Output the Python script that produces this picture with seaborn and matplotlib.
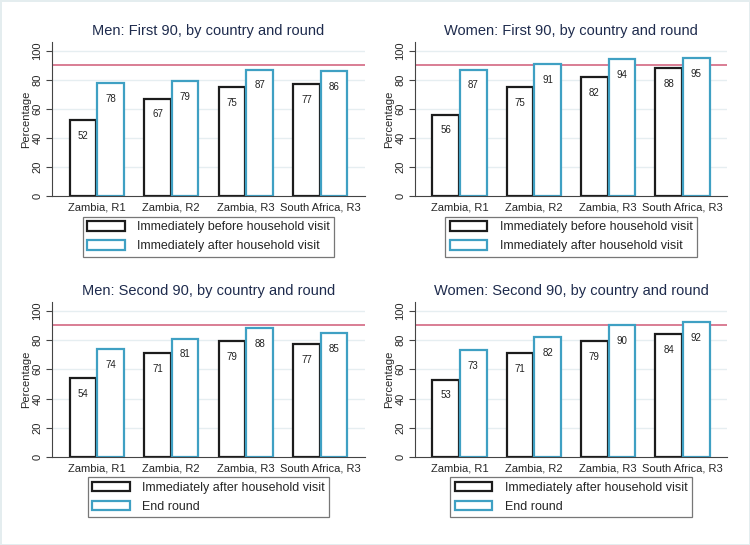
import pandas as pd
import matplotlib
matplotlib.use('Agg')
import matplotlib.pyplot as plt
import seaborn as sns

# Data
categories = ['Zambia, R1', 'Zambia, R2', 'Zambia, R3', 'South Africa, R3']

men_first_before = [52, 67, 75, 77]
men_first_after = [78, 79, 87, 86]
women_first_before = [56, 75, 82, 88]
women_first_after = [87, 91, 94, 95]
men_second_after = [54, 71, 79, 77]
men_second_end = [74, 81, 88, 85]
women_second_after = [53, 71, 79, 84]
women_second_end = [73, 82, 90, 92]

first_labels = ['Immediately before household visit', 'Immediately after household visit']
second_labels = ['Immediately after household visit', 'End round']

target = 90

sns.set_theme(style='white')
plt.rcParams['font.family'] = ['Liberation Sans', 'DejaVu Sans']

BLACK = '#1c1c1c'
BLUE = '#3fa0c3'
RED = '#cf5a76'
GRID = '#e6eef1'
TITLE = '#1e2b4d'

W, H = 750, 545
fig = plt.figure(figsize=(W / 100, H / 100), dpi=100)
fig.patch.set_facecolor('white')
fig.patch.set_edgecolor('#e4edef')
fig.patch.set_linewidth(2)


def make_df(a, b, labels):
    return pd.DataFrame({
        'Category': categories * 2,
        'Value': a + b,
        'Group': [labels[0]] * 4 + [labels[1]] * 4,
    })


def panel(rect, title, a, b, labels, legend_y):
    left, top, width, height = rect
    ax = fig.add_axes([left / W, (H - top - height) / H, width / W, height / H])
    df = make_df(a, b, labels)
    sns.barplot(data=df, x='Category', y='Value', hue='Group', hue_order=labels,
                palette=[BLACK, BLUE], fill=False, width=0.74, gap=0.03,
                linewidth=1.6, legend=False, ax=ax)
    for cont, col in zip(ax.containers, [BLACK, BLUE]):
        for p in cont:
            p.set_facecolor('white')
            p.set_edgecolor(col)
            p.set_zorder(2)
        ax.bar_label(cont, labels=[f'{v:.0f}' for v in cont.datavalues],
                     padding=-15, fontsize=7, color='#222222')
    ax.axhline(target, color=RED, lw=1.1, zorder=1)
    ax.set_xlim(-0.6, 3.6)
    ax.set_ylim(0, 106)
    ax.set_yticks([0, 20, 40, 60, 80, 100])
    ax.set_axisbelow(True)
    ax.yaxis.grid(True, color=GRID, lw=1)
    ax.get_ygridlines()[0].set_visible(False)
    ax.tick_params(axis='y', labelsize=8, length=4, width=0.8, color='#444444',
                   labelrotation=90, pad=3, left=True)
    for lab in ax.get_yticklabels():
        lab.set_va('center')
    ax.tick_params(axis='x', labelsize=8, length=0, pad=5)
    for s in ['top', 'right']:
        ax.spines[s].set_visible(False)
    for s in ['left', 'bottom']:
        ax.spines[s].set_color('#444444')
        ax.spines[s].set_linewidth(0.8)
    ax.set_xlabel('')
    ax.set_ylabel('Percentage', fontsize=8, labelpad=1)
    ax.set_title(title, fontsize=10.5, color=TITLE, pad=5)
    leg = ax.legend(ax.containers, labels, loc='upper center',
                    bbox_to_anchor=(0.5, legend_y), fontsize=9,
                    frameon=True, fancybox=False, framealpha=1,
                    edgecolor='#777777', handlelength=3.0, handleheight=0.8,
                    handletextpad=1.0, labelspacing=0.55, borderpad=0.35,
                    borderaxespad=0)
    leg.get_frame().set_linewidth(0.9)
    return ax


panel((52, 42, 313, 154), 'Men: First 90, by country and round',
      men_first_before, men_first_after, first_labels, -0.136)
panel((415, 42, 312, 154), 'Women: First 90, by country and round',
      women_first_before, women_first_after, first_labels, -0.136)
panel((52, 302, 313, 155), 'Men: Second 90, by country and round',
      men_second_after, men_second_end, second_labels, -0.13)
panel((415, 302, 312, 155), 'Women: Second 90, by country and round',
      women_second_after, women_second_end, second_labels, -0.13)

fig.savefig('out.png', dpi=100, facecolor=fig.get_facecolor(),
            edgecolor=fig.get_edgecolor())
